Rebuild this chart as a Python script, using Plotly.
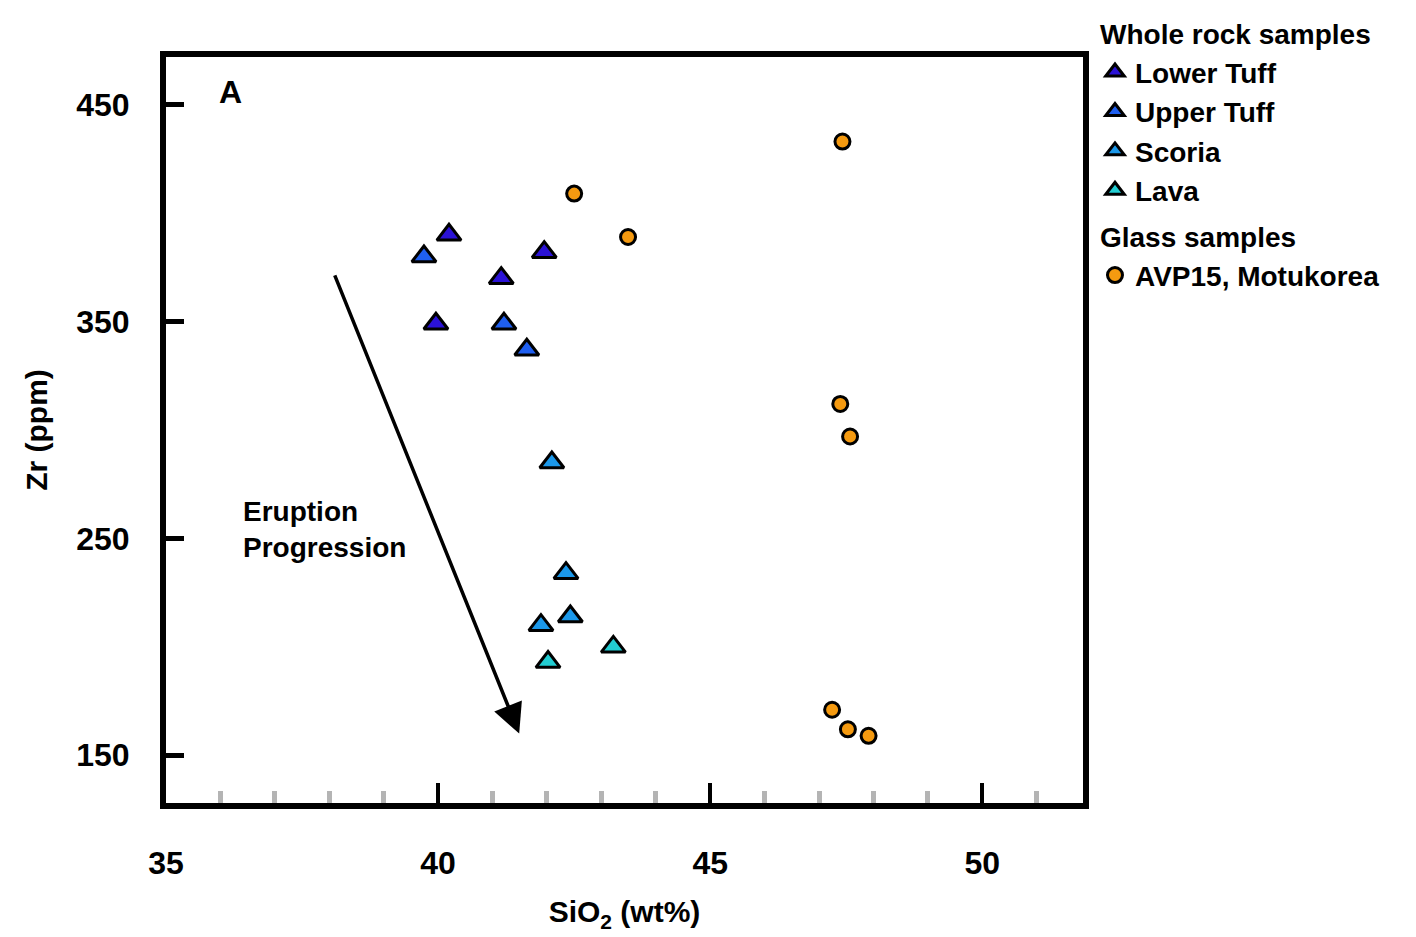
import plotly.graph_objects as go

# ---- data (SiO2 wt%, Zr ppm) ----
lower_tuff_x = [40.20, 41.95, 41.16, 39.96]
lower_tuff_y = [390, 382, 370, 349]
upper_tuff_x = [39.74, 41.21, 41.63]
upper_tuff_y = [380, 349, 337]
scoria_x = [42.09, 42.35, 41.89, 42.43]
scoria_y = [285, 234, 210, 214]
lava_x = [43.22, 42.02]
lava_y = [200, 193]
glass_x = [47.43, 42.50, 43.49, 47.39, 47.57, 47.24, 47.53, 47.91]
glass_y = [433, 409, 389, 312, 297, 171, 162, 159]

arrow_start = (38.09, 372)
arrow_end = (41.49, 160)

FONT = "Liberation Sans"
fig = go.Figure()

tri = dict(symbol="triangle-up", size=21, line=dict(color="black", width=3))
series = [
    ("Lower Tuff", lower_tuff_x, lower_tuff_y, "#2b12d6"),
    ("Upper Tuff", upper_tuff_x, upper_tuff_y, "#1f5ff0"),
    ("Scoria", scoria_x, scoria_y, "#1b98ea"),
    ("Lava", lava_x, lava_y, "#22cdd2"),
]
for name, xs, ys, col in series:
    fig.add_trace(go.Scatter(
        x=xs, y=ys, mode="markers", name=name,
        marker=dict(color=col, **tri),
        legendgroup="wr", legendgrouptitle=dict(text="Whole rock samples"),
    ))
fig.add_trace(go.Scatter(
    x=glass_x, y=glass_y, mode="markers", name="AVP15, Motukorea",
    marker=dict(symbol="circle", size=15, color="#f59a10", line=dict(color="black", width=3)),
    legendgroup="gl", legendgrouptitle=dict(text="Glass samples"),
))

fig.add_annotation(
    x=arrow_end[0], y=arrow_end[1], ax=arrow_start[0], ay=arrow_start[1],
    xref="x", yref="y", axref="x", ayref="y", text="", showarrow=True,
    arrowhead=2, arrowsize=1.7, arrowwidth=3.5, arrowcolor="black",
)
fig.add_annotation(
    x=36.38, y=254, xref="x", yref="y", text="<b>Eruption<br>Progression</b>",
    showarrow=False, xanchor="left", yanchor="middle", align="left",
    font=dict(family=FONT, size=28, color="black"),
)
fig.add_annotation(
    x=36.18, y=456, xref="x", yref="y", text="<b>A</b>",
    showarrow=False, xanchor="center", yanchor="middle",
    font=dict(family=FONT, size=32, color="black"),
)

fig.update_xaxes(
    range=[35, 51.85], tick0=35, dtick=5, ticks="inside", ticklen=20, tickwidth=4,
    tickcolor="black", showline=True, linewidth=6, linecolor="black", mirror=True,
    showgrid=False, zeroline=False, automargin=False,
    minor=dict(dtick=1, tick0=35, ticks="inside", ticklen=12, tickwidth=5, tickcolor="#b4b4b4", showgrid=False),
    tickfont=dict(family=FONT, size=32, color="black", weight="bold"),
    ticklabelstandoff=27,
    title=dict(text="<b>SiO<sub>2</sub> (wt%)</b>", font=dict(family=FONT, size=30, color="black"), standoff=23),
)
fig.update_yaxes(
    range=[128, 472], tick0=150, dtick=100, ticks="inside", ticklen=18, tickwidth=5,
    tickcolor="black", showline=True, linewidth=6, linecolor="black", mirror=True,
    showgrid=False, zeroline=False, automargin=False,
    tickfont=dict(family=FONT, size=32, color="black", weight="bold"),
    ticklabelstandoff=24,
    title=dict(text="<b>Zr (ppm)</b>", font=dict(family=FONT, size=30, color="black"), standoff=22),
)

fig.update_layout(
    width=1416, height=937,
    margin=dict(l=166, r=333, t=57, b=134, autoexpand=False),
    plot_bgcolor="white", paper_bgcolor="white",
    showlegend=True,
    legend=dict(
        xref="container", yref="container",
        x=0.7733, xanchor="left", y=0.9915, yanchor="top",
        font=dict(family=FONT, size=28, color="black", weight="bold"),
        grouptitlefont=dict(family=FONT, size=28, color="black", weight="bold"),
        tracegroupgap=6, itemwidth=30, bgcolor="rgba(0,0,0,0)",
    ),
)

fig.write_html("out.html")
